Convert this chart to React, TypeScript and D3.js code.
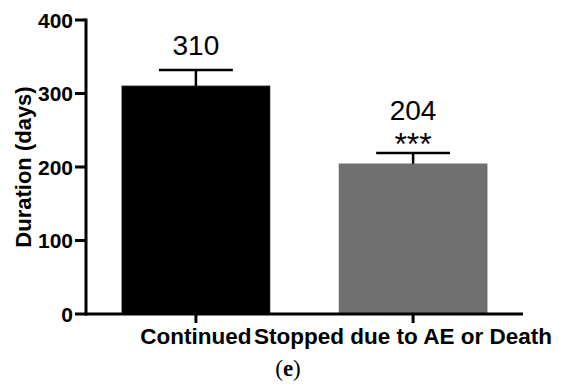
import React from 'react';
import * as d3 from 'd3';

const categories = ['Continued', 'Stopped due to AE or Death'];
const means = [310, 204];
const errorTops = [332, 219];
const valueLabels = ['310', '204'];
const significance = ['', '***'];
const barColors = ['#000000', '#707070'];
const yTicks = [0, 100, 200, 300, 400];

const W = 563;
const H = 390;
const margin = { left: 86, top: 20, right: 40, bottom: 76 };

export default function App() {
    const x = d3.scaleBand<string>()
        .domain(categories)
        .range([margin.left + 3.5, W - margin.right - 3.5])
        .paddingInner(0.32)
        .paddingOuter(0.15);
    const y = d3.scaleLinear().domain([0, 400]).range([H - margin.bottom, margin.top]);
    const y0 = y(0);
    const bw = x.bandwidth();
    const capHalf = bw * 0.25;
    const bold = { fontFamily: 'Liberation Sans, Arial, sans-serif', fontWeight: 700 as const };
    // the long label is pushed left so it stays inside the picture
    const labelShift = [0, -10];

    return (
        <div style={{ position: 'absolute', left: 0, top: 0 }}>
            <svg width={W} height={H} style={{ display: 'block', background: '#fff' }}>
                {categories.map((c, i) => {
                    const cx = (x(c) as number) + bw / 2;
                    return (
                        <g key={c}>
                            <line x1={cx} x2={cx} y1={y(means[i])} y2={y(errorTops[i])} stroke="#000" strokeWidth={2.5} />
                            <line x1={cx - capHalf} x2={cx + capHalf} y1={y(errorTops[i])} y2={y(errorTops[i])} stroke="#000" strokeWidth={2.5} />
                            <rect x={x(c)} y={y(means[i])} width={bw} height={y0 - y(means[i])}
                                  fill={barColors[i]} stroke={i ? '#646464' : '#000'} strokeWidth={1} />
                            <text x={cx} y={y(errorTops[i]) - (significance[i] ? 33 : 15)} textAnchor="middle"
                                  fontFamily="Liberation Sans, Arial, sans-serif" fontSize={28}>{valueLabels[i]}</text>
                            {significance[i] ? (
                                <text x={cx} y={y(errorTops[i]) + 2} textAnchor="middle"
                                      fontFamily="Liberation Sans, Arial, sans-serif" fontSize={32}>{significance[i]}</text>
                            ) : null}
                            <line x1={cx} x2={cx} y1={y0} y2={y0 + 9} stroke="#000" strokeWidth={3} />
                            <text x={cx + labelShift[i]} y={y0 + 30} textAnchor="middle" fontSize={22.5} {...bold}>{c}</text>
                        </g>
                    );
                })}
                {/* axes */}
                <line x1={margin.left} x2={margin.left} y1={y(400) - 1.5} y2={y0 + 1.5} stroke="#000" strokeWidth={3} />
                <line x1={margin.left} x2={W - margin.right} y1={y0} y2={y0} stroke="#000" strokeWidth={3} />
                {yTicks.map(t => (
                    <g key={t}>
                        <line x1={margin.left - 11} x2={margin.left} y1={y(t)} y2={y(t)} stroke="#000" strokeWidth={3} />
                        <text x={margin.left - 13} y={y(t)} dy="0.36em" textAnchor="end" fontSize={21} {...bold}>{t}</text>
                    </g>
                ))}
                <text transform={`translate(31,${(y(400) + y0) / 2}) rotate(-90)`} textAnchor="middle"
                      fontSize={22} {...bold}>Duration (days)</text>
                <text x={288} y={376} textAnchor="middle" fontFamily="Liberation Serif, Times New Roman, serif" fontSize={23}>
                    (<tspan fontWeight={700}>e</tspan>)
                </text>
            </svg>
        </div>
    );
}
